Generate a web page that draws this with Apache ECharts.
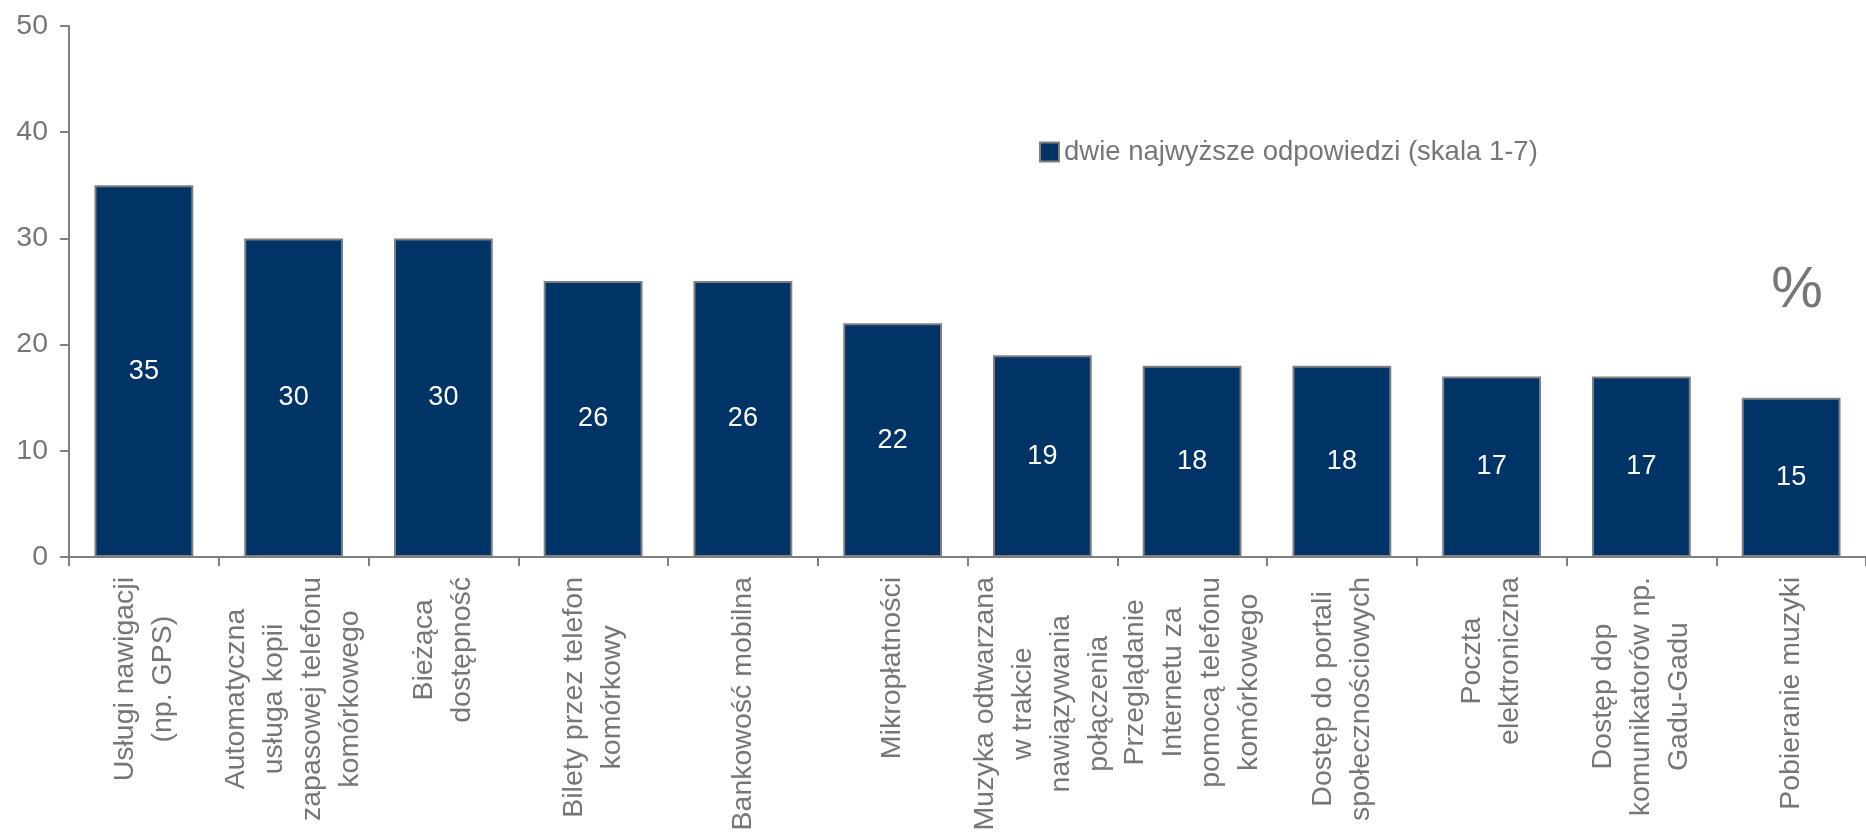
<!DOCTYPE html>
<html>
<head>
<meta charset="utf-8">
<script src="https://cdn.jsdelivr.net/npm/echarts@6/dist/echarts.min.js"></script>
<style>
html,body{margin:0;padding:0;background:#fff;}
#chart{width:1866px;height:837px;}
</style>
</head>
<body>
<div id="chart"></div>
<script>
const categories = [
  "Usługi nawigacji\n(np. GPS)",
  "Automatyczna\nusługa kopii\nzapasowej telefonu\nkomórkowego",
  "Bieżąca\ndostępność",
  "Bilety przez telefon\nkomórkowy",
  "Bankowość mobilna",
  "Mikropłatności",
  "Muzyka odtwarzana\nw trakcie\nnawiązywania\npołączenia",
  "Przeglądanie\nInternetu za\npomocą telefonu\nkomórkowego",
  "Dostęp do portali\nspołecznościowych",
  "Poczta\nelektroniczna",
  "Dostęp dop\nkomunikatorów np.\nGadu-Gadu",
  "Pobieranie muzyki"
];
const values = [35, 30, 30, 26, 26, 22, 19, 18, 18, 17, 17, 15];
const seriesName = "dwie najwyższe odpowiedzi (skala 1-7)";
const unitLabel = "%";
const yTicks = { min: 0, max: 50, interval: 10 };

const FONT = "'Liberation Sans', Arial, sans-serif";
const GREY = "#767676";
const AXIS = "#808080";

const chart = echarts.init(document.getElementById('chart'));
chart.setOption({
  animation: false,
  backgroundColor: '#ffffff',
  textStyle: { fontFamily: FONT },
  grid: { left: 69, top: 26, height: 531, width: 1817, containLabel: false },
  legend: {
    left: 1034, top: 133,
    data: [seriesName],
    icon: 'rect',
    itemWidth: 19, itemHeight: 19, itemGap: 6,
    textStyle: { fontSize: 27.5, color: GREY, fontFamily: FONT }
  },
  xAxis: {
    type: 'category',
    data: categories,
    axisLine: { lineStyle: { color: AXIS, width: 2 } },
    axisTick: { show: true, length: 9, lineStyle: { color: AXIS, width: 2 }, interval: 0 },
    axisLabel: {
      interval: 0,
      rotate: 90,
      margin: 20,
      formatter: v => v.split('\n').map(l => '{c|' + l + '}').join('\n'),
      rich: { c: { align: 'center', fontSize: 28.5, lineHeight: 38, color: GREY, fontFamily: FONT } }
    }
  },
  yAxis: {
    type: 'value',
    min: yTicks.min, max: yTicks.max, interval: yTicks.interval,
    splitLine: { show: false },
    axisLine: { show: true, lineStyle: { color: AXIS, width: 2 } },
    axisTick: { show: true, length: 9, lineStyle: { color: AXIS, width: 2 } },
    axisLabel: { fontSize: 28.5, color: GREY, margin: 21, fontFamily: FONT }
  },
  graphic: [{
    type: 'text',
    x: 1797, y: 291,
    style: { text: unitLabel, fontSize: 58, fill: GREY, fontFamily: FONT, align: 'center', verticalAlign: 'middle' }
  }],
  series: [{
    name: seriesName,
    type: 'bar',
    data: values,
    barCategoryGap: '34%',
    itemStyle: { color: '#003366', borderColor: AXIS, borderWidth: 2 },
    label: { show: true, position: 'inside', color: '#ffffff', fontSize: 27, fontFamily: FONT }
  }]
});
</script>
</body>
</html>
